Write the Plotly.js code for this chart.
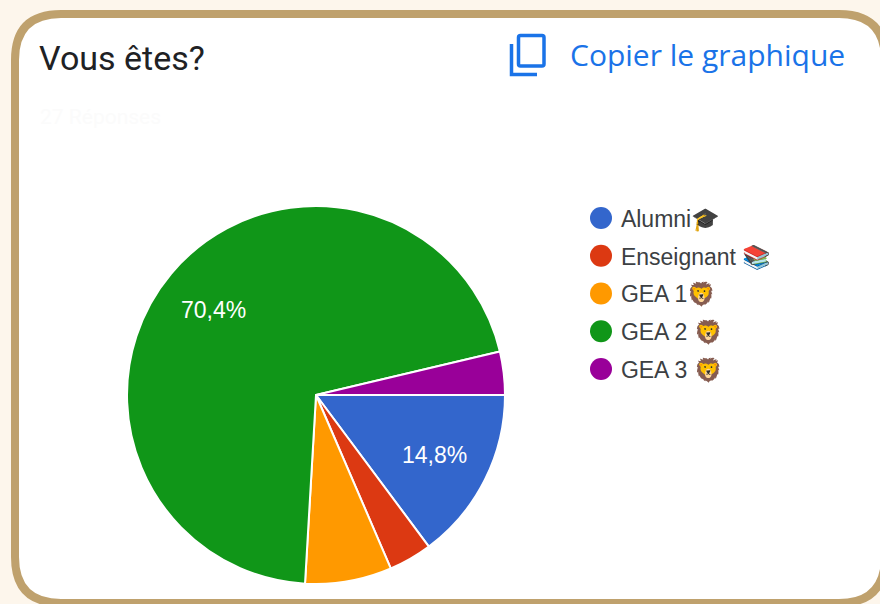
<!DOCTYPE html>
<html><head><meta charset="utf-8">
<script src="https://cdn.plot.ly/plotly-3.0.1.min.js"></script>
<style>html,body{margin:0;padding:0;background:#fdf6ec;overflow:hidden}#c{width:880px;height:604px}</style>
</head><body><div id="c"></div>
<script>
const categories = ['Alumni🎓','Enseignant 📚','GEA 1🦁','GEA 2 🦁','GEA 3 🦁'];
const responses = [4,1,2,19,1];
const colors = ['#3366cc','#dc3912','#ff9900','#109618','#990099'];
const legendRows = [4,3,2,1,0];
const W=880,H=604;
const px=v=>v/W, py=v=>1-v/H;
function rr(x0,y0,x1,y1,r){
  const X=px,Y=py;
  return `M${X(x0+r)},${Y(y0)} L${X(x1-r)},${Y(y0)} Q${X(x1)},${Y(y0)} ${X(x1)},${Y(y0+r)} L${X(x1)},${Y(y1-r)} Q${X(x1)},${Y(y1)} ${X(x1-r)},${Y(y1)} L${X(x0+r)},${Y(y1)} Q${X(x0)},${Y(y1)} ${X(x0)},${Y(y1-r)} L${X(x0)},${Y(y0+r)} Q${X(x0)},${Y(y0)} ${X(x0+r)},${Y(y0)} Z`;
}
const pie={type:'pie',values:responses,labels:categories,sort:false,direction:'clockwise',rotation:90,
  marker:{colors:colors,line:{color:'#fff',width:2}},textinfo:'none',hoverinfo:'none',showlegend:false,
  domain:{x:[127/W,505/W],y:[1-584/H,1-206/H]}};
const legendDots={type:'scatter',mode:'markers',x:legendRows.map(()=>0),y:legendRows,
  marker:{size:22,color:colors},hoverinfo:'none',showlegend:false,cliponaxis:false};
const legendText={type:'scatter',mode:'text',x:legendRows.map(()=>0.1),y:legendRows.map(v=>v-0.08),text:categories,
  textposition:'middle right',textfont:{family:'Liberation Sans',size:23,color:'#3c4043'},
  hoverinfo:'none',showlegend:false,cliponaxis:false};
const ann=(text,x,y,anchor,font)=>({text,x:px(x),y:py(y),xref:'paper',yref:'paper',xanchor:anchor,yanchor:'middle',showarrow:false,font});
const layout={width:W,height:H,margin:{l:0,r:0,t:0,b:0},paper_bgcolor:'#fdf6ec',plot_bgcolor:'rgba(0,0,0,0)',
  xaxis:{domain:[601/W,800/W],range:[0,1],visible:false,fixedrange:true},
  yaxis:{domain:[1-406.75/H,1-180.25/H],range:[-1,5],visible:false,fixedrange:true},
  shapes:[
   {type:'path',xref:'paper',yref:'paper',path:rr(15,14,885,603,46),fillcolor:'#ffffff',line:{color:'#bfa16d',width:8},layer:'below'},
   {type:'path',xref:'paper',yref:'paper',path:rr(518.5,35.5,544,66,2),line:{color:'#1a73e8',width:3.5},layer:'above'},
   {type:'path',xref:'paper',yref:'paper',path:`M${px(511.5)},${py(44)} L${px(511.5)},${py(74.5)} L${px(537)},${py(74.5)}`,line:{color:'#1a73e8',width:3.5},layer:'above'}
  ],
  annotations:[
   ann('Vous êtes?',37,58,'left',{family:'Roboto',size:34,color:'#202124'}),
   ann('27 Réponses',38,117,'left',{family:'Roboto',size:21,color:'#fbfbfb'}),
   ann('Copier le graphique',568,54,'left',{family:'Open Sans',size:30,weight:500,color:'#1a73e8'}),
   ann('70,4%',213,310,'center',{family:'Liberation Sans',size:23,color:'#fff'}),
   ann('14,8%',434,455,'center',{family:'Liberation Sans',size:23,color:'#fff'})
  ]};
Plotly.newPlot('c',[pie,legendDots,legendText],layout,{displayModeBar:false,staticPlot:true});
</script></body></html>
